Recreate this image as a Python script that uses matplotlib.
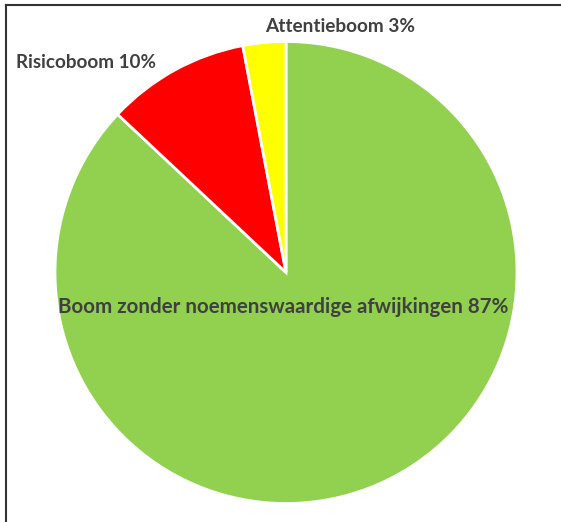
import matplotlib
matplotlib.use("Agg")
import matplotlib.pyplot as plt
from matplotlib.lines import Line2D

categories = ["Boom zonder noemenswaardige afwijkingen", "Risicoboom", "Attentieboom"]
values = [87, 10, 3]
colors = ["#92D050", "#FF0000", "#FFFF00"]

W, H = 561, 522
fig = plt.figure(figsize=(W / 100, H / 100), dpi=100)
fig.patch.set_facecolor("white")

cx, cy, r = 286, 272.5, 231
ax = fig.add_axes([(cx - r) / W, (H - cy - r) / H, 2 * r / W, 2 * r / H])
ax.pie(values, colors=colors, startangle=90, counterclock=False,
       wedgeprops=dict(edgecolor="white", linewidth=2))
ax.set_xlim(-1, 1)
ax.set_ylim(-1, 1)
ax.set_aspect("auto")

tc = "#404040"
font = dict(family="Lato", weight="bold", color=tc)
labels = [f"{c} {v}%" for c, v in zip(categories, values)]
fig.text(58 / W, 1 - 307 / H, labels[0], ha="left", va="center", fontsize=14.8, **font)
fig.text(16 / W, 1 - 62 / H, labels[1], ha="left", va="center", fontsize=13.6, **font)
fig.text(265 / W, 1 - 26 / H, labels[2], ha="left", va="center", fontsize=13.7, **font)

# frame on left and top
fig.add_artist(Line2D([5.5 / W, 5.5 / W], [0, 1 - 4.5 / H], transform=fig.transFigure, color="#333333", lw=1.5))
fig.add_artist(Line2D([5.5 / W, 1], [1 - 4.5 / H, 1 - 4.5 / H], transform=fig.transFigure, color="#333333", lw=1.5))

fig.savefig("out.png", dpi=100)
